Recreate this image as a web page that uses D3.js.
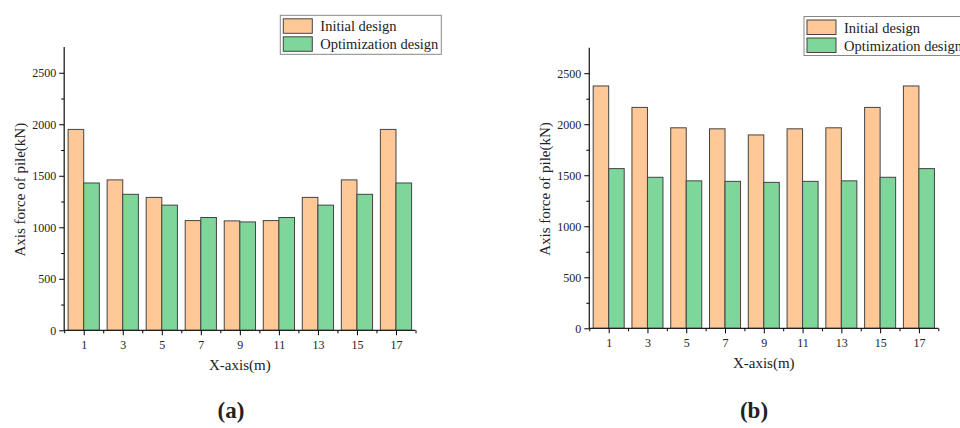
<!DOCTYPE html>
<html>
<head>
<meta charset="utf-8">
<script src="https://cdn.jsdelivr.net/npm/d3@7"></script>
<style>
  body { margin: 0; background: #fff; }
  text { font-family: "Liberation Serif", "Times New Roman", serif; fill: #222; }
</style>
</head>
<body>
<svg id="chart" width="960" height="428"></svg>
<script>
// x positions (m)
var positions = [1, 3, 5, 7, 9, 11, 13, 15, 17];

// panel (a)
var initialA = [1950, 1460, 1290, 1065, 1062, 1065, 1290, 1460, 1950];
var optimA   = [1430, 1320, 1215, 1095, 1052, 1095, 1215, 1320, 1430];

// panel (b)
var initialB = [2375, 2165, 1965, 1955, 1895, 1955, 1965, 2165, 2375];
var optimB   = [1565, 1480, 1445, 1440, 1430, 1440, 1445, 1480, 1565];

var yTicks = [0, 500, 1000, 1500, 2000, 2500];
var seriesNames = ["Initial design", "Optimization design"];
var colors = ["#FFC896", "#7ED69A"];

var svg = d3.select("#chart");

function drawPanel(opt) {
  var g = svg.append("g");

  var x = d3.scaleLinear().domain([0, 18]).range([opt.left, opt.right]);
  var y = d3.scaleLinear().domain([0, 2750]).range([opt.bottom, opt.top]);
  var bw = x(0.8) - x(0);

  var series = [opt.initial, opt.optim];
  series.forEach(function(vals, s) {
    g.append("g").selectAll("rect")
      .data(vals)
      .enter().append("rect")
      .attr("x", function(d, i) { return s == 0 ? x(positions[i]) - bw : x(positions[i]); })
      .attr("y", function(d) { return y(d); })
      .attr("width", bw)
      .attr("height", function(d) { return y(0) - y(d); })
      .attr("fill", colors[s])
      .attr("stroke", "#444")
      .attr("stroke-width", 1);
  });

  // y axis
  var yAxis = g.append("g")
    .attr("transform", "translate(" + opt.left + ",0)")
    .call(d3.axisLeft(y).tickValues(yTicks).tickFormat(d3.format("d")).tickSize(5).tickPadding(3));
  yAxis.select(".domain").attr("stroke", "#222").attr("stroke-width", 1.3).attr("d", "M0," + opt.bottom + "V" + opt.top);
  yAxis.selectAll("text").style("font-size", "12px").style("font-family", "Liberation Serif");
  g.append("g")
    .attr("transform", "translate(" + opt.left + ",0)")
    .call(d3.axisLeft(y).tickValues([250, 750, 1250, 1750, 2250]).tickSize(3).tickFormat(""))
    .select(".domain").remove();

  // x axis
  var xAxis = g.append("g")
    .attr("transform", "translate(0," + opt.bottom + ")")
    .call(d3.axisBottom(x).tickValues(positions).tickSize(5).tickPadding(5));
  xAxis.select(".domain").attr("stroke", "#222").attr("stroke-width", 1.3).attr("d", "M" + opt.left + ",0H" + opt.right);
  xAxis.selectAll("text").style("font-size", "12px").style("font-family", "Liberation Serif");
  g.append("g")
    .attr("transform", "translate(0," + opt.bottom + ")")
    .call(d3.axisBottom(x).tickValues([0, 2, 4, 6, 8, 10, 12, 14, 16, 18]).tickSize(3).tickFormat(""))
    .select(".domain").remove();

  // axis titles
  g.append("text")
    .attr("transform", "translate(" + (opt.left - 39) + "," + ((opt.top + opt.bottom) / 2 + 1) + ") rotate(-90)")
    .attr("text-anchor", "middle")
    .style("font-size", "15px")
    .text("Axis force of pile(kN)");
  g.append("text")
    .attr("x", (opt.left + opt.right) / 2 + 0)
    .attr("y", opt.bottom + 40)
    .attr("text-anchor", "middle")
    .style("font-size", "15px")
    .text("X-axis(m)");

  // legend
  var lg = g.append("g").attr("transform", "translate(" + opt.legX + "," + opt.legY + ")");
  lg.append("rect")
    .attr("width", 161).attr("height", 39)
    .attr("fill", "#fff").attr("stroke", "#888").attr("stroke-width", 1);
  seriesNames.forEach(function(name, i) {
    lg.append("rect")
      .attr("x", 3).attr("y", 3.5 + i * 18)
      .attr("width", 29).attr("height", 14.5)
      .attr("fill", colors[i]).attr("stroke", "#444");
    lg.append("text")
      .attr("x", 40).attr("y", 16 + i * 18)
      .style("font-size", "14.5px")
      .text(name);
  });

  // panel label
  g.append("text")
    .attr("x", opt.labelX)
    .attr("y", 418)
    .attr("text-anchor", "middle")
    .style("font-size", "23px")
    .style("font-weight", "bold")
    .text(opt.label);
}

drawPanel({ left: 64.2, right: 415.5, top: 47, bottom: 330.3,
  initial: initialA, optim: optimA, legX: 280.3, legY: 15.3, labelX: 231, label: "(a)" });
drawPanel({ left: 589.3, right: 938.3, top: 47.7, bottom: 328.3,
  initial: initialB, optim: optimB, legX: 804, legY: 16.5, labelX: 754, label: "(b)" });
</script>
</body>
</html>
